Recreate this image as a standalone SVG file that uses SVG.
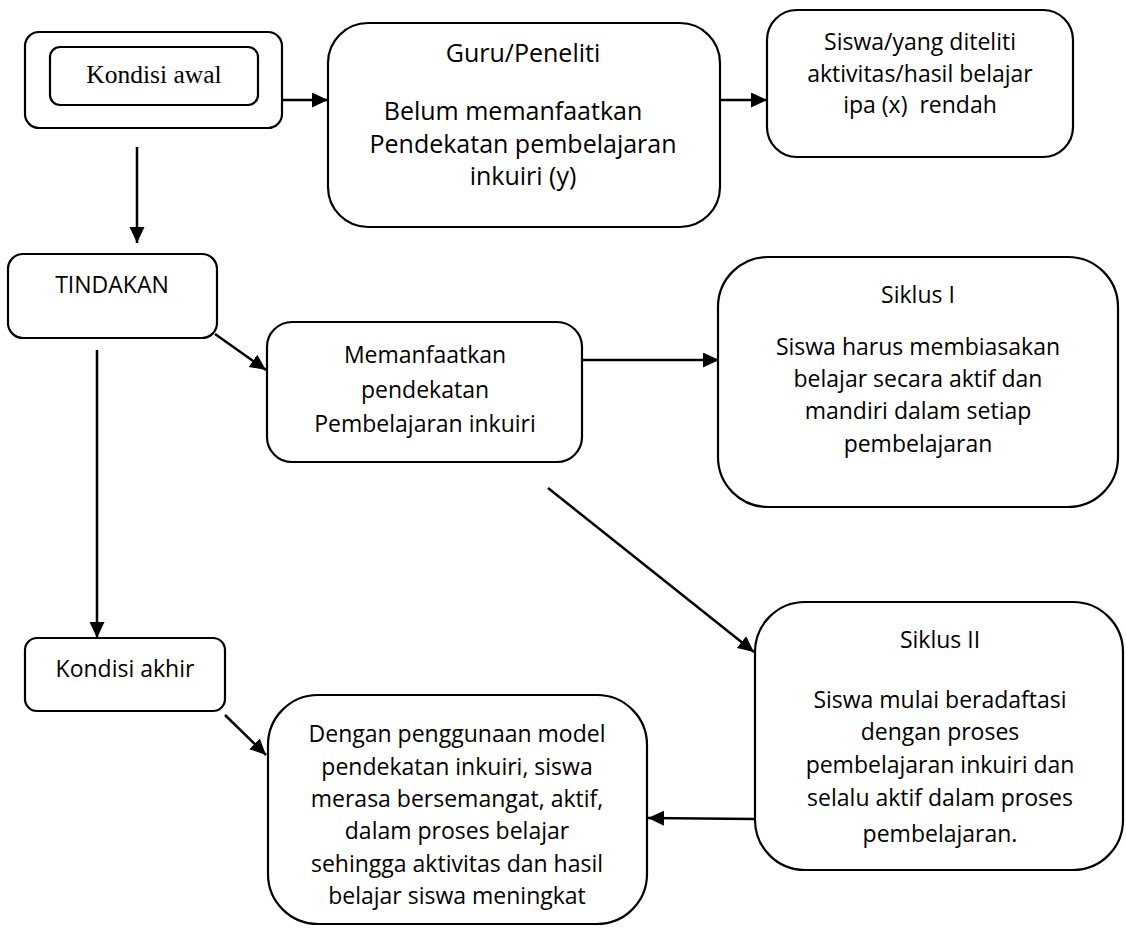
<svg xmlns="http://www.w3.org/2000/svg" width="1126" height="930" viewBox="0 0 1126 930">
<style>
.box{fill:#fff;stroke:#000;stroke-width:2.2}
.t{font-family:"Open Sans","Noto Sans","Liberation Sans",sans-serif;font-size:23px;fill:#000;text-anchor:middle}
.big{font-size:25px}
.serif{font-family:"Liberation Serif","Times New Roman",serif;font-size:25.5px;fill:#000;text-anchor:middle}
.c{stroke:#000;stroke-width:2.5;fill:none}
</style>
<defs>
<marker id="ah" markerUnits="userSpaceOnUse" markerWidth="18" markerHeight="16" refX="16" refY="7.5" orient="auto">
<path d="M0,0 L16,7.5 L0,15 z" fill="#000"/>
</marker>
</defs>
<rect width="1126" height="930" fill="#fff"/>
<g id="connectors">
<line class="c" x1="282" y1="100" x2="328" y2="100" marker-end="url(#ah)"/>
<line class="c" x1="718" y1="100" x2="767" y2="100" marker-end="url(#ah)"/>
<line class="c" x1="137" y1="147" x2="137" y2="243" marker-end="url(#ah)"/>
<line class="c" x1="215" y1="334" x2="266" y2="370" marker-end="url(#ah)"/>
<line class="c" x1="97" y1="350" x2="97" y2="638" marker-end="url(#ah)"/>
<line class="c" x1="582" y1="360" x2="719" y2="360" marker-end="url(#ah)"/>
<line class="c" x1="548" y1="488" x2="754" y2="652" marker-end="url(#ah)"/>
<line class="c" x1="755" y1="819" x2="648" y2="818" marker-end="url(#ah)"/>
<line class="c" x1="225" y1="715" x2="266" y2="755" marker-end="url(#ah)"/>
</g>
<g id="kondisi-awal">
<rect class="box" x="25" y="32" width="257" height="96" rx="14"/>
<rect class="box" x="50" y="47" width="208" height="58" rx="10"/>
<text class="serif" x="154" y="83">Kondisi awal</text>
</g>
<g id="guru">
<rect class="box" x="328" y="23" width="392" height="204" rx="40"/>
<text class="t big" x="523" y="62">Guru/Peneliti</text>
<text class="t big" x="513" y="120">Belum memanfaatkan</text>
<text class="t big" x="523" y="153">Pendekatan pembelajaran</text>
<text class="t big" x="523" y="185">inkuiri (y)</text>
</g>
<g id="siswa">
<rect class="box" x="767" y="10" width="306" height="147" rx="30"/>
<text class="t" x="920" y="50">Siswa/yang diteliti</text>
<text class="t" x="920" y="82">aktivitas/hasil belajar</text>
<text class="t" x="920" y="113" xml:space="preserve">ipa (x)  rendah</text>
</g>
<g id="tindakan">
<rect class="box" x="8" y="254" width="209" height="84" rx="15"/>
<text class="t" x="112" y="293">TINDAKAN</text>
</g>
<g id="memanfaatkan">
<rect class="box" x="267" y="322" width="315" height="140" rx="25"/>
<text class="t" x="425" y="363">Memanfaatkan</text>
<text class="t" x="425" y="398">pendekatan</text>
<text class="t" x="425" y="432">Pembelajaran inkuiri</text>
</g>
<g id="siklus1">
<rect class="box" x="718" y="257" width="400" height="250" rx="50"/>
<text class="t" x="918" y="303">Siklus I</text>
<text class="t" x="918" y="355">Siswa harus membiasakan</text>
<text class="t" x="918" y="387">belajar secara aktif dan</text>
<text class="t" x="918" y="419">mandiri dalam setiap</text>
<text class="t" x="918" y="452">pembelajaran</text>
</g>
<g id="kondisi-akhir">
<rect class="box" x="25" y="638" width="200" height="73" rx="12"/>
<text class="t" x="125" y="677">Kondisi akhir</text>
</g>
<g id="siklus2">
<rect class="box" x="755" y="602" width="368" height="268" rx="50"/>
<text class="t" x="940" y="648">Siklus II</text>
<text class="t" x="940" y="708">Siswa mulai beradaftasi</text>
<text class="t" x="940" y="740">dengan proses</text>
<text class="t" x="940" y="773">pembelajaran inkuiri dan</text>
<text class="t" x="940" y="806">selalu aktif dalam proses</text>
<text class="t" x="940" y="842">pembelajaran.</text>
</g>
<g id="dengan">
<rect class="box" x="268" y="695" width="379" height="229" rx="50"/>
<text class="t" x="457" y="742">Dengan penggunaan model</text>
<text class="t" x="457" y="775">pendekatan inkuiri, siswa</text>
<text class="t" x="457" y="807">merasa bersemangat, aktif,</text>
<text class="t" x="457" y="839">dalam proses belajar</text>
<text class="t" x="457" y="872">sehingga aktivitas dan hasil</text>
<text class="t" x="457" y="904">belajar siswa meningkat</text>
</g>
</svg>
